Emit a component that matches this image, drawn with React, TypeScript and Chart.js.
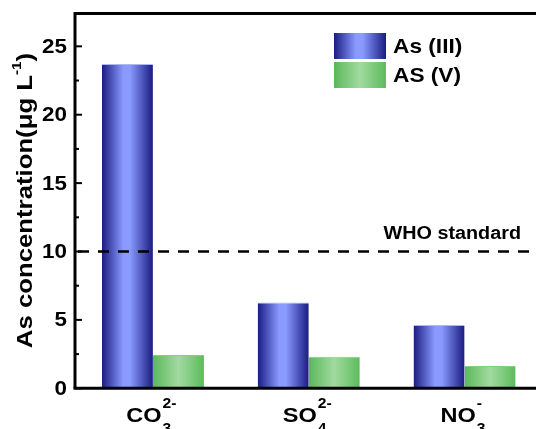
import React, { useEffect, useRef } from "react";
import { Chart, registerables } from "chart.js";

Chart.register(...registerables);

const categories = ["CO3", "SO4", "NO3"];
const labelMain = ["CO", "SO", "NO"];
const labelSub = ["3", "4", "3"];
const labelSup = ["2-", "2-", "-"];
const seriesNames = ["As (III)", "AS (V)"];
const asIII = [23.7, 6.28, 4.62];
const asV = [2.43, 2.31, 1.63];
const yMax = 27.4;
const yMajorTicks = [0, 5, 10, 15, 20, 25];
const yMinorTicks = [2.5, 7.5, 12.5, 17.5, 22.5];
const whoLevel = 10;
const whoLabel = "WHO standard";
const yTitle = "As concentration(μg L";
const yTitleSup = "-1";

const FONT = "Arial, 'Liberation Sans', sans-serif";
const SX = 1.12;

function blueGrad(ctx: CanvasRenderingContext2D, x0: number, x1: number) {
  const g = ctx.createLinearGradient(x0, 0, x1, 0);
  g.addColorStop(0, "#1a1c80");
  g.addColorStop(0.42, "#8a9aff");
  g.addColorStop(0.55, "#8a9aff");
  g.addColorStop(1, "#1a1c80");
  return g;
}
function greenGrad(ctx: CanvasRenderingContext2D, x0: number, x1: number) {
  const g = ctx.createLinearGradient(x0, 0, x1, 0);
  g.addColorStop(0, "#5ab85a");
  g.addColorStop(0.5, "#a2daa0");
  g.addColorStop(1, "#5cbc5c");
  return g;
}

const CAT_PCT = 0.655;

function barBg(which: number) {
  return (c: any) => {
    const chart = c.chart;
    const xs = chart.scales?.x;
    if (!xs || !chart.chartArea) return which === 0 ? "#5060d0" : "#80c880";
    const cx = xs.getPixelForValue(c.dataIndex);
    const catW = (chart.chartArea.right - chart.chartArea.left) / categories.length;
    const bw = (catW * CAT_PCT) / 2;
    const x0 = which === 0 ? cx - bw : cx;
    return which === 0
      ? blueGrad(chart.ctx, x0, x0 + bw)
      : greenGrad(chart.ctx, x0, x0 + bw);
  };
}

function sText(
  ctx: CanvasRenderingContext2D,
  text: string,
  x: number,
  y: number,
  font: string,
  align: "left" | "right" | "center",
  baseline: CanvasTextBaseline,
  sx = SX
) {
  ctx.save();
  ctx.font = font;
  ctx.textBaseline = baseline;
  ctx.textAlign = "left";
  const w = ctx.measureText(text).width * sx;
  let x0 = x;
  if (align === "right") x0 = x - w;
  else if (align === "center") x0 = x - w / 2;
  ctx.translate(x0, y);
  ctx.scale(sx, 1);
  ctx.fillText(text, 0, 0);
  ctx.restore();
  return w;
}

function measure(ctx: CanvasRenderingContext2D, text: string, font: string, sx = SX) {
  ctx.save();
  ctx.font = font;
  const w = ctx.measureText(text).width * sx;
  ctx.restore();
  return w;
}

const decorPlugin = {
  id: "decor",
  afterDatasetsDraw(chart: any) {
    const ctx: CanvasRenderingContext2D = chart.ctx;
    const ca = chart.chartArea;
    const ys = chart.scales.y;
    const xs = chart.scales.x;
    ctx.save();
    ctx.fillStyle = "#000";
    const yw = ys.getPixelForValue(whoLevel);
    ctx.strokeStyle = "#000";
    ctx.lineWidth = 2.5;
    ctx.setLineDash([11, 9]);
    ctx.beginPath();
    ctx.moveTo(ca.left + 3, yw);
    ctx.lineTo(ca.right, yw);
    ctx.stroke();
    ctx.setLineDash([]);
    sText(ctx, whoLabel, 521, yw - 13, `bold 18px ${FONT}`, "right", "alphabetic", 1.1);

    ctx.lineWidth = 3;
    ctx.beginPath();
    ctx.moveTo(ca.left, ca.bottom);
    ctx.lineTo(ca.left, ca.top);
    ctx.lineTo(ca.right, ca.top);
    ctx.stroke();
    ctx.beginPath();
    ctx.moveTo(ca.left - 1.5, ca.bottom);
    ctx.lineTo(ca.right, ca.bottom);
    ctx.stroke();

    ctx.lineWidth = 2;
    yMajorTicks.forEach((v) => {
      const y = ys.getPixelForValue(v);
      ctx.beginPath();
      ctx.moveTo(ca.left, y);
      ctx.lineTo(ca.left + 7, y);
      ctx.stroke();
    });
    yMinorTicks.forEach((v) => {
      const y = ys.getPixelForValue(v);
      ctx.beginPath();
      ctx.moveTo(ca.left, y);
      ctx.lineTo(ca.left + 4, y);
      ctx.stroke();
    });
    yMajorTicks.forEach((v) => {
      const y = ys.getPixelForValue(v);
      sText(ctx, String(v), ca.left - 8, y + 1, `bold 20px ${FONT}`, "right", "middle");
    });

    ctx.save();
    ctx.translate(31.5, 200.5);
    ctx.rotate(-Math.PI / 2);
    ctx.scale(1.17, 1.04);
    const tf = `bold 22px ${FONT}`;
    const sf = `bold 13px ${FONT}`;
    ctx.font = tf;
    const w1 = ctx.measureText(yTitle).width;
    ctx.font = sf;
    const w2 = ctx.measureText(yTitleSup).width;
    ctx.font = tf;
    const w3 = ctx.measureText(")").width;
    const total = w1 + w2 + w3;
    let x = -total / 2;
    ctx.textAlign = "left";
    ctx.textBaseline = "alphabetic";
    ctx.fillText(yTitle, x, 0);
    x += w1;
    ctx.font = sf;
    ctx.fillText(yTitleSup, x, -10);
    x += w2;
    ctx.font = tf;
    ctx.fillText(")", x, 0);
    ctx.restore();

    const mf = `bold 21px ${FONT}`;
    const ssf = `bold 14px ${FONT}`;
    categories.forEach((_, i) => {
      const cx = xs.getPixelForValue(i);
      const mw = measure(ctx, labelMain[i], mf);
      const sw = Math.max(measure(ctx, labelSup[i], ssf), measure(ctx, labelSub[i], ssf));
      const tot = mw + sw;
      const x0 = cx - tot / 2 - 2;
      sText(ctx, labelMain[i], x0, 422, mf, "left", "alphabetic");
      sText(ctx, labelSup[i], x0 + mw + 1, 408, ssf, "left", "alphabetic");
      sText(ctx, labelSub[i], x0 + mw + 1, 433, ssf, "left", "alphabetic");
    });

    const lx = 334, lw = 52;
    const rows = [
      { y: 33, h: 26 },
      { y: 62, h: 26 },
    ];
    rows.forEach((r, i) => {
      ctx.fillStyle = i === 0 ? blueGrad(ctx, lx, lx + lw) : greenGrad(ctx, lx, lx + lw);
      ctx.fillRect(lx, r.y, lw, r.h);
      ctx.fillStyle = "#000";
      sText(ctx, seriesNames[i], 393, r.y + r.h / 2 + 1, `bold 21px ${FONT}`, "left", "middle", 1.08);
    });
    ctx.restore();
  },
};

export default function App() {
  const ref = useRef<HTMLCanvasElement>(null);
  useEffect(() => {
    if (!ref.current) return;
    const chart = new Chart(ref.current, {
      type: "bar",
      data: {
        labels: categories,
        datasets: [
          {
            label: seriesNames[0],
            data: asIII,
            backgroundColor: barBg(0),
            borderColor: "#b0b8f0",
            borderWidth: { top: 1, left: 0, right: 0, bottom: 0 },
            categoryPercentage: CAT_PCT,
            barPercentage: 1,
          },
          {
            label: seriesNames[1],
            data: asV,
            backgroundColor: barBg(1),
            borderColor: "#7fd07f",
            borderWidth: { top: 1, left: 0, right: 0, bottom: 0 },
            categoryPercentage: CAT_PCT,
            barPercentage: 1,
          },
        ],
      },
      options: {
        responsive: false,
        animation: false,
        layout: { padding: { left: 75, top: 13.5, right: 17.5, bottom: 40.7 } },
        plugins: { legend: { display: false }, tooltip: { enabled: false } },
        scales: {
          x: { display: false },
          y: { display: false, min: 0, max: yMax },
        },
      },
      plugins: [decorPlugin],
    });
    return () => chart.destroy();
  }, []);
  return (
    <div
      style={{
        position: "fixed",
        left: 0,
        top: 0,
        width: 536,
        height: 429,
        overflow: "hidden",
        background: "#fff",
      }}
    >
      <canvas ref={ref} width={560} height={429} style={{ display: "block" }} />
    </div>
  );
}
